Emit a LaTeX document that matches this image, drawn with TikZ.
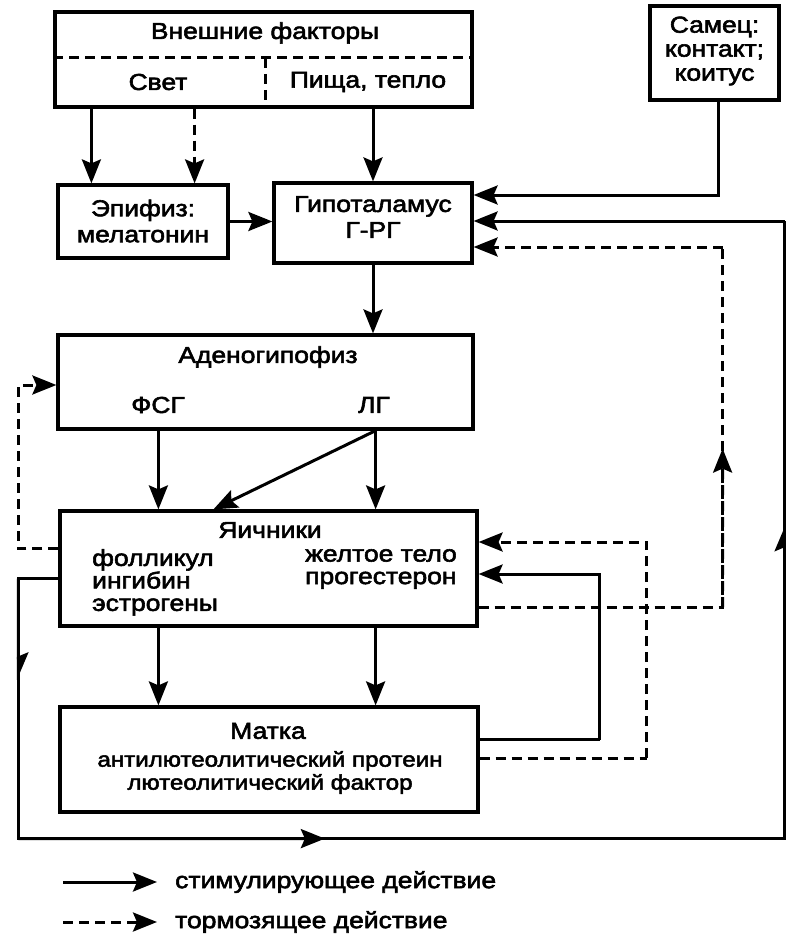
\documentclass[tikz,border=0pt]{standalone}
\usepackage{fontspec}
\setmainfont{Liberation Sans}[FakeStretch=1.15,FakeBold=2.5]
\usetikzlibrary{arrows.meta,calc}

\tikzset{
  box/.style={draw,line width=3.2pt,inner sep=0pt},
  line/.style={line width=3pt},
  arr/.style={line width=3pt,-{Stealth[length=24pt,width=19pt,inset=4pt]}},
  half/.style={line width=3pt,-{Stealth[length=24pt,width=20pt,inset=4pt,harpoon]}},
  dsh/.style={dash pattern=on 10pt off 6pt},
  txt/.style={font=\fontsize{23}{26}\selectfont,inner sep=0pt},
  small/.style={font=\fontsize{21}{23}\selectfont,inner sep=0pt}
}

\begin{document}
\begin{tikzpicture}[x=1pt,y=-1pt]
  \useasboundingbox (0,0) rectangle (786,939);

  % boxes
  \node[box,minimum width=417pt,minimum height=95pt] (ext) at (263.5,59.5) {};
  \node[box,minimum width=129pt,minimum height=94pt] (male) at (714.5,53) {};
  \node[box,minimum width=170pt,minimum height=73pt] (epi) at (143,221.5) {};
  \node[box,minimum width=198pt,minimum height=80pt] (hyp) at (373,223) {};
  \node[box,minimum width=415pt,minimum height=94pt] (adeno) at (265.5,382) {};
  \node[box,minimum width=417pt,minimum height=115pt] (ovar) at (268.5,568.5) {};
  \node[box,minimum width=418pt,minimum height=105pt] (uter) at (269,759.5) {};

  % texts
  \node[txt] (extT) at (265,33) {Внешние факторы};
  \node[txt] (light) at (158,82) {Свет};
  \node[txt] (food) at (368,82) {Пища, тепло};
  \node[txt,align=center,font=\fontsize{23}{24}\selectfont] (maleT) at (714.5,51) {Самец:\\контакт;\\коитус};
  \node[txt,align=center] (epiT) at (143,221) {Эпифиз:\\мелатонин};
  \node[txt,align=center] (hypT) at (373,217) {Гипоталамус\\Г-РГ};
  \node[txt] (adenoT) at (268,357) {Аденогипофиз};
  \node[txt] (fsh) at (158,405) {ФСГ};
  \node[txt] (lh) at (374,405) {ЛГ};
  \node[txt] (ovarT) at (270,530) {Яичники};
  \node[txt,align=left,anchor=north west,font=\fontsize{23}{22.5}\selectfont] (foll) at (92,549) {фолликул\\ингибин\\эстрогены};
  \node[txt,align=left,anchor=north west,font=\fontsize{23}{22.5}\selectfont] (corp) at (305,549) {желтое тело\\прогестерон};
  \node[txt] (uterT) at (268,731) {Матка};
  \node[small] (anti) at (270,761) {антилютеолитический протеин};
  \node[small] (luteo) at (270,784) {лютеолитический фактор};

  % divider in the top box
  \draw[line,dsh] ([yshift=1.5pt]ext.west) -- ([yshift=1.5pt]ext.east);
  \draw[line,dsh] ([xshift=1.5pt,yshift=1.5pt]ext.center) -- ([xshift=1.5pt]ext.south);

  % top arrows
  \draw[arr] ([xshift=35pt]epi.north west |- ext.south) -- ([xshift=35pt]epi.north west);
  \draw[arr,dsh] ([xshift=-35pt]epi.north east |- ext.south) -- ([xshift=-35pt]epi.north east);
  \draw[arr] (hyp.north |- ext.south) -- (hyp.north);
  \draw[arr] (epi.east) -- (epi.east -| hyp.west);
  \draw[arr] ([xshift=4pt]male.south) |- ([yshift=28pt]hyp.east);

  % hypothalamus -> adenohypophysis -> ovaries
  \draw[arr] (hyp.south) -- (hyp.south |- adeno.north);
  \draw[arr] ([xshift=102pt]adeno.south west) -- ([xshift=102pt]adeno.south west |- ovar.north);
  \draw[arr] ([xshift=-99pt]adeno.south east) -- ([xshift=-99pt]adeno.south east |- ovar.north);
  \draw[arr] ([xshift=-99pt]adeno.south east) -- ([xshift=155pt]ovar.north west);
  \draw[arr,dsh] ([yshift=20pt]ovar.west) -- ++(-40pt,0) |- ([yshift=-3pt]adeno.west);

  % ovaries -> uterus
  \draw[arr] ([xshift=100pt]ovar.south west) -- ([xshift=100pt]ovar.south west |- uter.north);
  \draw[arr] ([xshift=-103pt]ovar.south east) -- ([xshift=-103pt]ovar.south east |- uter.north);

  % uterus -> ovaries
  \draw[line] ([yshift=20pt]uter.east) -- ++(120pt,0) coordinate (utS);
  \draw[arr] (utS) |- ([yshift=-5.5pt]ovar.east);
  \draw[line,dsh] ([yshift=1.5pt]uter.east) -- ++(167pt,0) coordinate (utI);
  \draw[arr,dsh] (utI) |- ([yshift=26.5pt]ovar.east);

  % long stimulating loop to the hypothalamus
  \coordinate (fbL) at ([xshift=-40pt,yshift=-10pt]ovar.west);
  \coordinate (fbB) at ([yshift=-25pt]uter.south);
  \coordinate (fbR) at ([xshift=4pt]male.east);
  \coordinate (hypS) at ([yshift=2pt]hyp.east);
  \draw[line] ([yshift=-10pt]ovar.west) -- (fbL) -- (fbL |- fbB) -- (fbR |- fbB) -- (fbR |- hypS);
  \draw[arr] (fbR |- hypS) -- (hypS);
  \draw[half] (fbL) -- ($(fbL)!0.39!(fbL |- fbB)$);
  \draw[arr] (fbL |- fbB) -- ($(fbL |- fbB)!0.40!(fbR |- fbB)$);
  \draw[half] (fbR |- fbB) -- ($(fbR |- fbB)!0.51!(fbR |- hypS)$);

  % inhibiting loop to the hypothalamus
  \coordinate (inR) at ([xshift=244pt,yshift=-38.5pt]ovar.east);
  \coordinate (hypI) at ([yshift=-24pt]hyp.east);
  \draw[line,dsh] ([yshift=-38.5pt]ovar.east) -- (inR) -- (inR |- hypI);
  \draw[arr,dsh] (inR |- hypI) -- (hypI);
  \draw[arr,dsh] (inR) -- ($(inR)!0.44!(inR |- hypI)$);

  % legend
  \node[txt,anchor=west] (legstim) at (175,882) {стимулирующее действие};
  \node[txt,anchor=west] (leginh) at (175,922) {тормозящее действие};
  \draw[arr] ([xshift=-112pt]legstim.west) -- ([xshift=-18pt]legstim.west);
  \draw[arr,dsh] ([xshift=-112pt]leginh.west) -- ([xshift=-18pt]leginh.west);
\end{tikzpicture}
\end{document}
